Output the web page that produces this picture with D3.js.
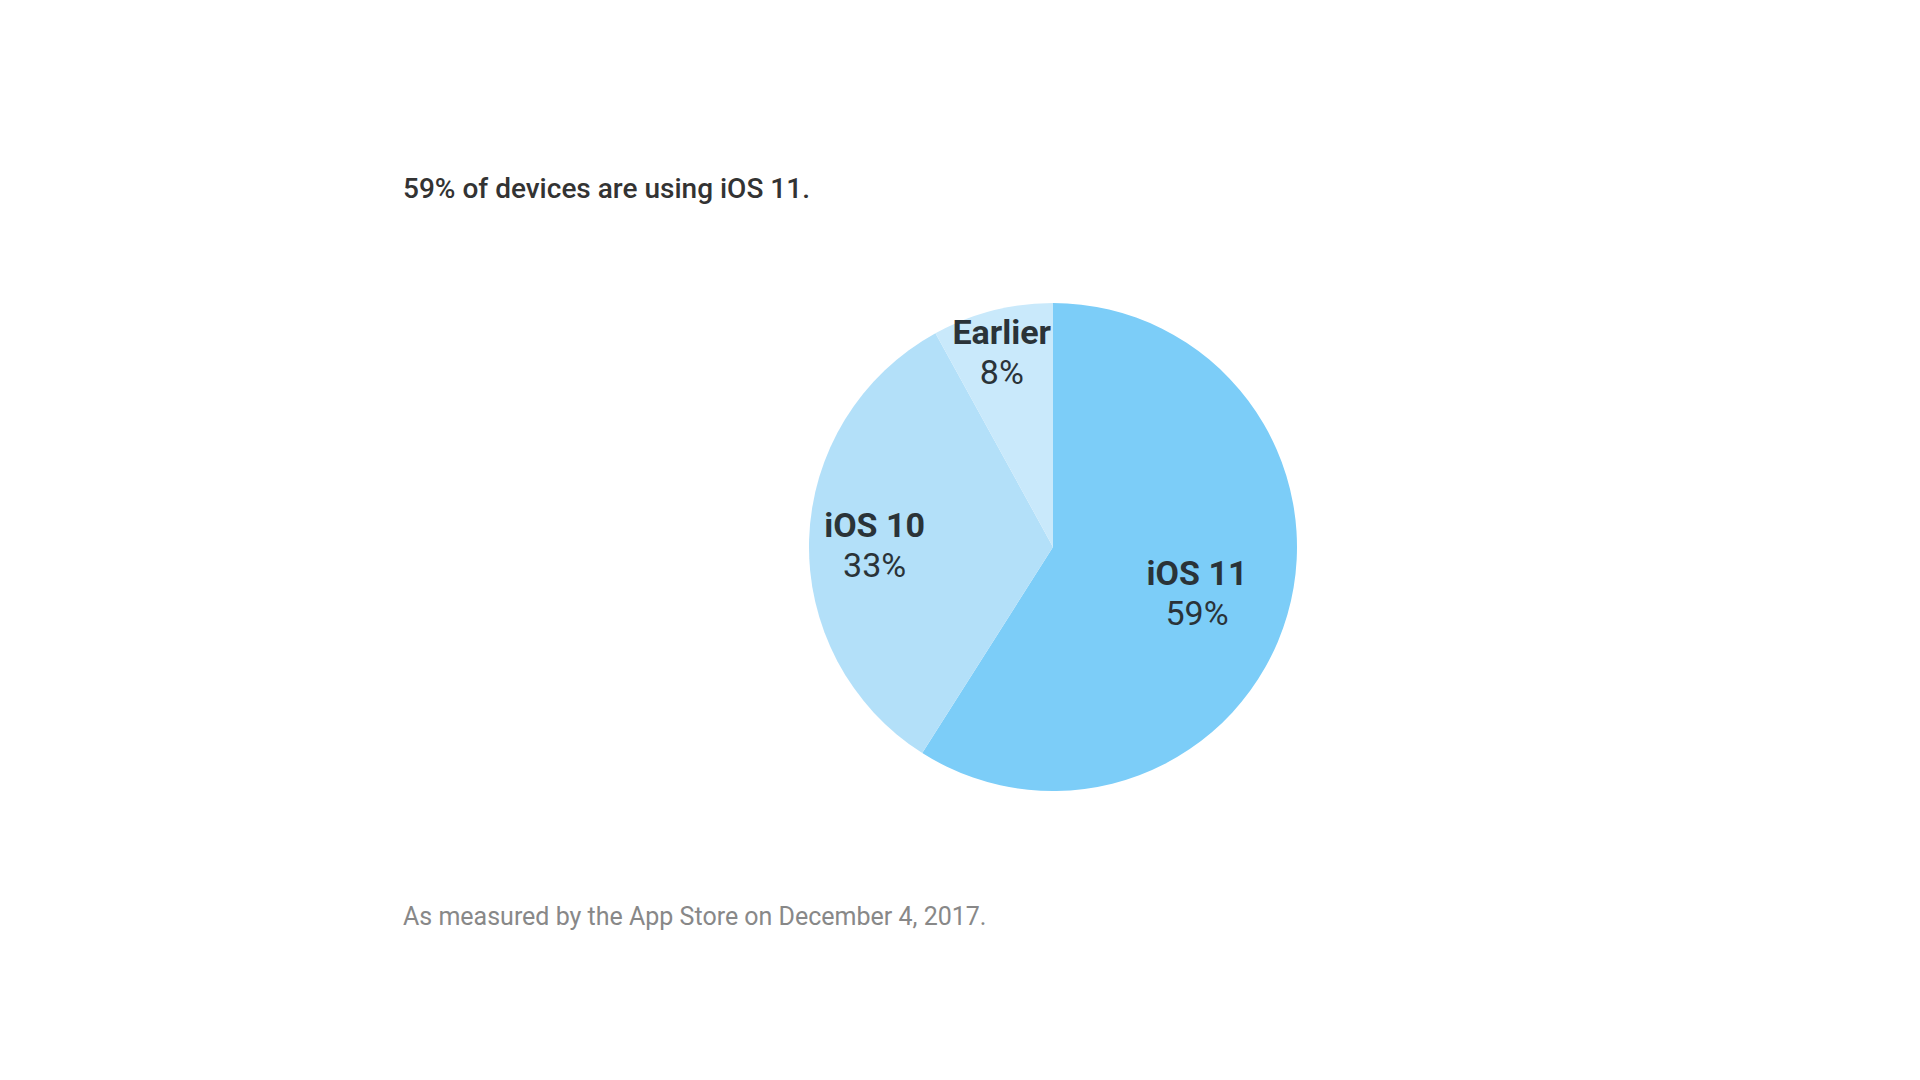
<!DOCTYPE html>
<html><head><meta charset="utf-8">
<script src="https://cdn.jsdelivr.net/npm/d3@7"></script>
<style>body{margin:0;background:#fff}</style>
</head><body>
<script>
var labels = ["iOS 11", "iOS 10", "Earlier"];
var values = [59, 33, 8];
var colors = ["#7ccdf8", "#b3e0f9", "#c9e9fb"];

var width = 1920, height = 1080,
    cx = 1053, cy = 547, radius = 244;

var svg = d3.select("body").append("svg")
    .attr("width", width)
    .attr("height", height)
    .style("font-family", "Roboto, 'Noto Sans', sans-serif");

svg.append("text")
    .attr("x", 403).attr("y", 198)
    .attr("font-size", 28).attr("font-weight", 500)
    .attr("fill", "#333")
    .text("59% of devices are using iOS 11.");

svg.append("text")
    .attr("x", 403).attr("y", 925)
    .attr("font-size", 25)
    .attr("fill", "#888")
    .text("As measured by the App Store on December 4, 2017.");

var pie = d3.pie().sort(null).value(function(d) { return d; });
var arcs = pie(values);
var arc = d3.arc().innerRadius(0).outerRadius(radius);

var g = svg.append("g").attr("transform", "translate(" + cx + "," + cy + ")");

g.selectAll("path")
    .data(arcs)
  .enter().append("path")
    .attr("d", arc)
    .attr("fill", function(d, i) { return colors[i]; });

// small slices get their labels pushed further out
var labelR = function(d) {
  var p = (d.endAngle - d.startAngle) / (2 * Math.PI);
  return radius * (0.88 - 0.45 * p);
};

var lab = g.selectAll("g.lab")
    .data(arcs)
  .enter().append("g")
    .attr("class", "lab")
    .attr("transform", function(d) {
      var r = labelR(d);
      var c = d3.arc().innerRadius(r).outerRadius(r).centroid(d);
      return "translate(" + c[0] + "," + c[1] + ")";
    });

lab.append("text")
    .attr("text-anchor", "middle")
    .attr("y", -4)
    .attr("font-size", 34).attr("font-weight", 700)
    .attr("fill", "#2a3338")
    .text(function(d, i) { return labels[i]; });

lab.append("text")
    .attr("text-anchor", "middle")
    .attr("y", 36)
    .attr("font-size", 34)
    .attr("fill", "#2a3338")
    .text(function(d) { return d.value + "%"; });
</script>
</body></html>
